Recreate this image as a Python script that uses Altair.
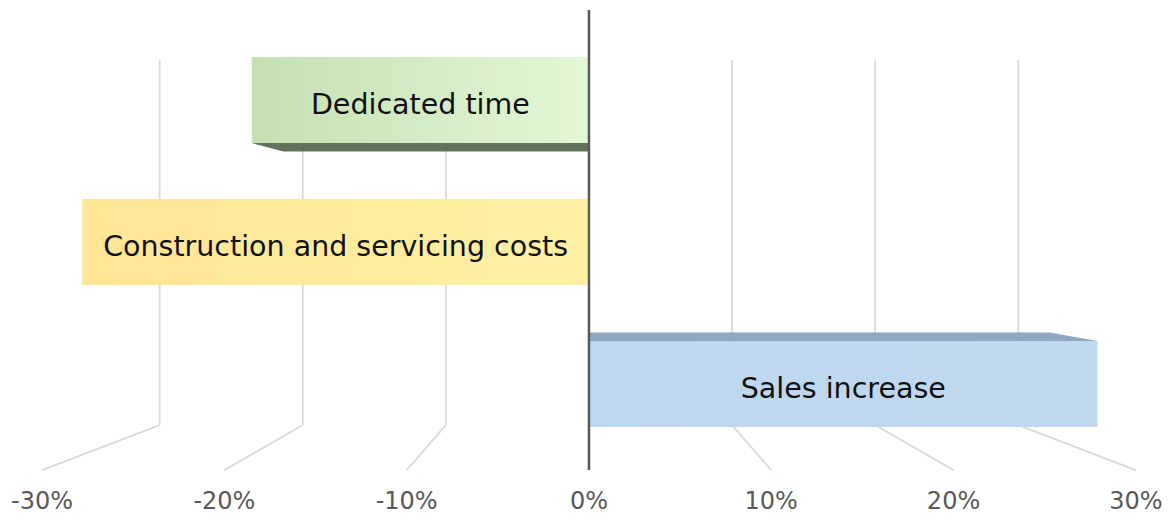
import altair as alt
import pandas as pd

# ---- data ----
categories = ["Dedicated time", "Construction and servicing costs", "Sales increase"]
values = [-18.5, -27.8, 27.9]
ticks = [-30, -20, -10, 0, 10, 20, 30]
tick_labels = ["-30%", "-20%", "-10%", "0%", "10%", "20%", "30%"]

# ---- style / layout (not data) ----
grad_left = ["#c5dfb3", "#ffe596", "#bdd7ee"]
grad_right = ["#e2f8d6", "#fff1a4", "#c0d9ef"]
face_col = ["#586b50", None, "#8aa2bd"]
BACK = 0.785       # perspective factor of the back wall
BARBACK = 0.906    # perspective factor of the back of the bars
HALF = 0.303       # half bar height (category units)
FACE = 0.06        # visible side-face depth
GRID_TOP, GRID_BACK, GRID_FRONT, LABEL_Y = -0.282, 2.289, 2.606, 2.83
AXIS_TOP = -0.634

W, H = 1157, 505
xs = alt.Scale(domain=[-31.87, 31.6], nice=False, zero=False)
ys = alt.Scale(domain=[-0.648, 2.908], nice=False, zero=False, reverse=True)

# gridlines (back verticals + diagonals to the front)
grid_rows = []
for t in ticks:
    if t == 0:
        continue
    grid_rows.append({"t": t, "seg": "v", "x": t * BACK, "y": GRID_TOP, "o": 0})
    grid_rows.append({"t": t, "seg": "v", "x": t * BACK, "y": GRID_BACK, "o": 1})
    grid_rows.append({"t": t, "seg": "d", "x": t * BACK, "y": GRID_BACK, "o": 0})
    grid_rows.append({"t": t, "seg": "d", "x": t, "y": GRID_FRONT, "o": 1})
grid_df = pd.DataFrame(grid_rows)
grid_df["key"] = grid_df["t"].astype(str) + grid_df["seg"]

grid = alt.Chart(grid_df).mark_line(color="#d9d9d9", strokeWidth=1.8).encode(
    x=alt.X("x:Q", scale=xs, axis=None),
    y=alt.Y("y:Q", scale=ys, axis=None),
    detail="key:N",
    order="o:Q",
)

layers = [grid]

for i, (cat, v) in enumerate(zip(categories, values)):
    df = pd.DataFrame({"cat": [cat], "v": [v], "zero": [0.0],
                       "y1": [i - HALF], "y2": [i + HALF], "mid": [v / 2], "yc": [i]})
    rect = alt.Chart(df).mark_rect(
        fill=alt.Gradient(
            gradient="linear",
            stops=[alt.GradientStop(color=grad_left[i], offset=0),
                   alt.GradientStop(color=grad_right[i], offset=1)],
            x1=0, x2=1, y1=0, y2=0,
        )
    ).encode(
        x=alt.X("v:Q", scale=xs, axis=None), x2="zero:Q",
        y=alt.Y("y1:Q", scale=ys, axis=None), y2="y2:Q",
    )
    layers.append(rect)
    if face_col[i] is not None:
        if i == 0:
            # bottom face visible (bar above eye level)
            fdf = pd.DataFrame({"y": [i + HALF, i + HALF + FACE],
                                "xa": [v, v * BARBACK], "xb": [0.0, 0.0]})
        else:
            # top face visible (bar below eye level)
            fdf = pd.DataFrame({"y": [i - HALF - FACE, i - HALF],
                                "xa": [v * BARBACK, v], "xb": [0.0, 0.0]})
        face = alt.Chart(fdf).mark_area(orient="horizontal", color=face_col[i], opacity=0.95).encode(
            y=alt.Y("y:Q", scale=ys, axis=None),
            x=alt.X("xa:Q", scale=xs, axis=None), x2="xb:Q",
        )
        layers.append(face)
    txt = alt.Chart(df).mark_text(font="DejaVu Sans", fontSize=28.5, color="#111111",
                                  align="center", baseline="middle", dy=5).encode(
        x=alt.X("mid:Q", scale=xs, axis=None),
        y=alt.Y("yc:Q", scale=ys, axis=None),
        text="cat:N",
    )
    layers.append(txt)

# zero axis line
axis_df = pd.DataFrame({"x": [0.0], "ya": [AXIS_TOP], "yb": [GRID_FRONT]})
axis_line = alt.Chart(axis_df).mark_rule(color="#595959", strokeWidth=2.5).encode(
    x=alt.X("x:Q", scale=xs, axis=None),
    y=alt.Y("ya:Q", scale=ys, axis=None), y2="yb:Q",
)
layers.append(axis_line)

# tick labels
lab_df = pd.DataFrame({"t": ticks, "lab": tick_labels, "y": [LABEL_Y] * len(ticks)})
labels = alt.Chart(lab_df).mark_text(font="DejaVu Sans", fontSize=24, color="#595959",
                                     align="center", baseline="middle").encode(
    x=alt.X("t:Q", scale=xs, axis=None),
    y=alt.Y("y:Q", scale=ys, axis=None),
    text="lab:N",
)
layers.append(labels)

chart = alt.layer(*layers).properties(
    width=W, height=H, padding=0, background="white"
).configure_view(stroke=None)

chart.save("out.html", embed_options={"renderer": "svg", "actions": False})
